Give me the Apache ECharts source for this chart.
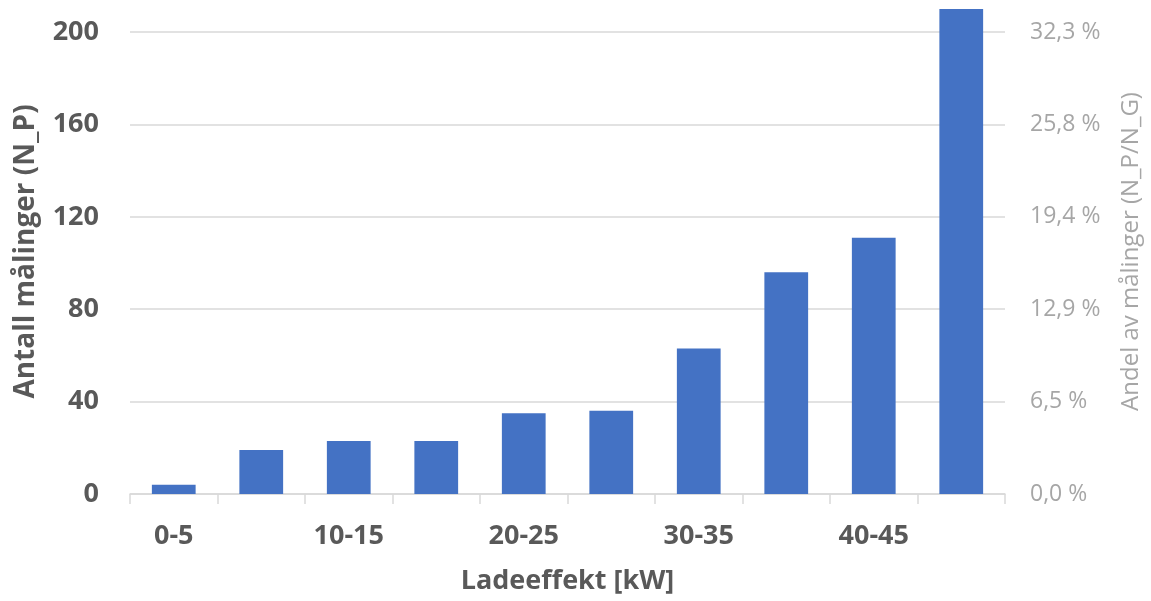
<!DOCTYPE html>
<html>
<head>
<meta charset="utf-8">
<script src="https://cdn.jsdelivr.net/npm/echarts@6/dist/echarts.min.js"></script>
<style>
  html, body { margin: 0; padding: 0; background: #ffffff; }
  #chart { width: 1151px; height: 601px; }
</style>
</head>
<body>
<div id="chart"></div>
<script>
// Charging power bins (kW)
const categories = ['0-5', '5-10', '10-15', '15-20', '20-25', '25-30', '30-35', '35-40', '40-45', '45-50'];
// Number of measurements per bin (N_P)
const counts = [4, 19, 23, 23, 35, 36, 63, 96, 111, 210];
// Left axis ticks
const countMax = 210;
const countStep = 40;

// Total number of measurements (N_G), used for the share axis
const total = counts.reduce((a, b) => a + b, 0);

const fontFamily = '"Open Sans", "Liberation Sans", sans-serif';
const dark = '#595959';
const grey = '#a6a6a6';
const gridColor = '#d9d9d9';

const chart = echarts.init(document.getElementById('chart'), null, { renderer: 'canvas' });

chart.setOption({
  animation: false,
  backgroundColor: '#ffffff',
  grid: { left: 130, right: 141, top: 9, bottom: 107, containLabel: false },
  xAxis: {
    type: 'category',
    data: categories,
    axisLine: { show: true, lineStyle: { color: gridColor, width: 1.5 } },
    axisTick: { show: true, alignWithLabel: false, interval: 0, length: 10, lineStyle: { color: gridColor, width: 1.5 } },
    axisLabel: {
      interval: 1,
      margin: 29,
      color: dark,
      fontFamily: fontFamily,
      fontWeight: 'bold',
      fontSize: 27
    },
    name: 'Ladeeffekt [kW]',
    nameLocation: 'middle',
    nameGap: 74,
    nameTextStyle: { color: dark, fontFamily: fontFamily, fontWeight: 'bold', fontSize: 27 }
  },
  yAxis: [
    {
      type: 'value',
      min: 0,
      max: countMax,
      interval: countStep,
      position: 'left',
      axisLine: { show: false },
      axisTick: { show: false },
      splitLine: { show: true, showMaxLine: false, lineStyle: { color: gridColor, width: 1.5 } },
      axisLabel: {
        showMaxLabel: false,
        margin: 31,
        color: dark,
        fontFamily: fontFamily,
        fontWeight: 'bold',
        fontSize: 27
      },
      name: 'Antall målinger (N_P)',
      nameLocation: 'middle',
      nameGap: 90,
      nameRotate: 90,
      nameTextStyle: { color: dark, fontFamily: fontFamily, fontWeight: 'bold', fontSize: 28 }
    },
    {
      type: 'value',
      min: 0,
      max: countMax,
      interval: countStep,
      position: 'right',
      axisLine: { show: false },
      axisTick: { show: false },
      splitLine: { show: false },
      axisLabel: {
        showMaxLabel: false,
        margin: 25,
        color: grey,
        fontFamily: fontFamily,
        fontSize: 23,
        formatter: v => (v / total * 100).toFixed(1).replace('.', ',') + ' %'
      },
      name: 'Andel av målinger (N_P/N_G)',
      nameLocation: 'middle',
      nameGap: 114,
      nameRotate: 90,
      nameTextStyle: { color: grey, fontFamily: fontFamily, fontSize: 24 }
    }
  ],
  series: [
    {
      type: 'bar',
      data: counts,
      yAxisIndex: 0,
      barWidth: '50%',
      itemStyle: { color: '#4472c4' }
    }
  ]
});
</script>
</body>
</html>
